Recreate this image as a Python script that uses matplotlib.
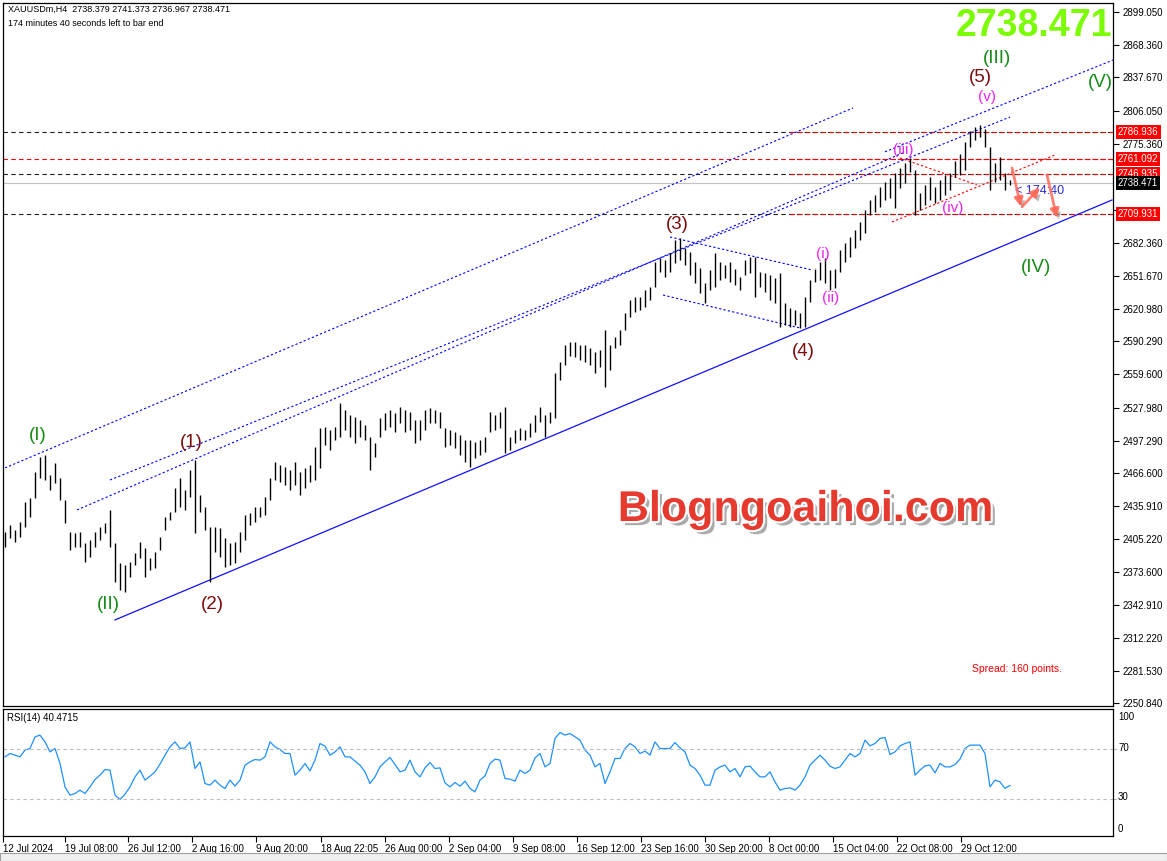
import matplotlib
matplotlib.use('Agg')
import matplotlib.pyplot as plt
import matplotlib.patheffects as pe
from matplotlib.patches import Rectangle

plt.rcParams['font.family'] = ['Liberation Sans', 'DejaVu Sans']

# H4 bars, high / low
highs = [2411.6, 2418.1, 2413.4, 2420.9, 2439.7, 2443.4, 2467.8, 2481.9, 2483.7, 2465.0,
         2476.2, 2462.2, 2441.6, 2411.6, 2410.6, 2411.6, 2401.2, 2404.0, 2411.6, 2416.2,
         2420.0, 2432.2, 2401.2, 2382.5, 2380.6, 2383.4, 2391.9, 2402.2, 2396.6, 2387.2,
         2392.8, 2406.9, 2425.6, 2430.3, 2452.8, 2462.2, 2450.9, 2469.7, 2479.1, 2446.2,
         2435.0, 2416.2, 2416.2, 2415.3, 2405.9, 2401.2, 2402.2, 2411.6, 2427.5, 2429.4,
         2435.0, 2435.0, 2444.4, 2462.2, 2477.2, 2474.4, 2472.5, 2469.7, 2477.2, 2467.8,
         2471.6, 2474.4, 2491.2, 2509.1, 2510.0, 2507.2, 2510.0, 2532.5, 2525.9, 2521.2,
         2519.4, 2516.6, 2511.9, 2500.6, 2495.0, 2518.4, 2523.1, 2525.9, 2523.1, 2528.7,
         2525.9, 2524.1, 2516.6, 2516.6, 2525.9, 2527.8, 2525.9, 2524.1, 2509.1, 2507.2,
         2505.3, 2502.5, 2497.8, 2497.8, 2495.9, 2497.8, 2500.6, 2524.1, 2521.2, 2524.1,
         2528.7, 2500.6, 2507.2, 2509.1, 2507.2, 2513.7, 2521.2, 2528.7, 2521.2, 2524.1,
         2560.6, 2570.9, 2586.9, 2589.7, 2589.7, 2586.9, 2586.9, 2584.1, 2580.3, 2582.2,
         2600.9, 2586.9, 2594.4, 2600.9, 2616.9, 2629.1, 2631.9, 2631.9, 2638.4, 2641.2,
         2664.7, 2668.4, 2666.6, 2673.1, 2685.3, 2687.2, 2677.8, 2674.1, 2664.7, 2659.1,
         2645.0, 2657.2, 2673.1, 2664.7, 2661.9, 2664.7, 2658.1, 2650.6, 2666.6, 2669.4,
         2669.4, 2655.3, 2654.4, 2652.5, 2649.7, 2654.4, 2626.2, 2621.6, 2619.7, 2616.9,
         2631.9, 2647.8, 2658.1, 2664.7, 2668.4, 2657.2, 2658.1, 2675.9, 2682.5, 2688.1,
         2694.7, 2702.2, 2713.4, 2722.8, 2727.5, 2735.0, 2739.7, 2743.4, 2748.1, 2752.8,
         2757.5, 2762.2, 2750.9, 2729.4, 2736.9, 2744.4, 2735.0, 2741.6, 2746.2, 2748.1,
         2759.4, 2765.9, 2777.2, 2787.5, 2791.2, 2793.1, 2789.4, 2772.5, 2757.5, 2763.1,
         2748.1, 2741.4]
lows = [2397.5, 2405.9, 2402.2, 2406.9, 2416.2, 2425.6, 2443.4, 2462.2, 2460.3, 2450.9,
        2457.5, 2441.6, 2420.0, 2394.7, 2397.5, 2397.5, 2383.4, 2388.1, 2397.5, 2404.0,
        2410.6, 2397.5, 2364.7, 2357.2, 2355.3, 2369.4, 2380.6, 2387.2, 2369.4, 2375.9,
        2377.8, 2394.7, 2413.4, 2422.8, 2430.3, 2435.0, 2432.2, 2444.4, 2410.6, 2430.3,
        2413.4, 2364.7, 2392.8, 2388.1, 2378.7, 2380.6, 2382.5, 2392.8, 2404.0, 2418.1,
        2420.9, 2425.6, 2427.5, 2441.6, 2460.3, 2458.4, 2455.6, 2450.9, 2455.6, 2446.2,
        2452.8, 2458.4, 2460.3, 2471.6, 2493.1, 2488.4, 2497.8, 2500.6, 2507.2, 2500.6,
        2495.0, 2500.6, 2497.8, 2469.7, 2481.9, 2500.6, 2507.2, 2510.0, 2505.3, 2513.7,
        2505.3, 2507.2, 2495.0, 2497.8, 2507.2, 2513.7, 2513.7, 2509.1, 2491.2, 2493.1,
        2490.3, 2483.7, 2477.2, 2472.5, 2481.0, 2483.7, 2486.6, 2505.3, 2507.2, 2509.1,
        2485.6, 2488.4, 2495.0, 2497.8, 2497.8, 2500.6, 2505.3, 2514.7, 2500.6, 2513.7,
        2518.4, 2554.1, 2568.1, 2576.6, 2575.6, 2572.8, 2570.9, 2568.1, 2560.6, 2566.2,
        2547.5, 2563.4, 2584.1, 2586.9, 2600.9, 2613.1, 2617.8, 2619.7, 2622.5, 2629.1,
        2641.2, 2655.3, 2650.6, 2655.3, 2663.7, 2666.6, 2661.9, 2652.5, 2645.0, 2635.6,
        2626.2, 2638.4, 2641.2, 2647.8, 2649.7, 2645.9, 2643.1, 2638.4, 2652.5, 2654.4,
        2631.9, 2641.2, 2636.6, 2629.1, 2626.2, 2603.7, 2605.6, 2603.7, 2605.6, 2602.8,
        2603.7, 2627.2, 2645.9, 2647.8, 2645.0, 2638.4, 2640.3, 2655.3, 2664.7, 2669.4,
        2677.8, 2685.3, 2691.9, 2708.7, 2711.6, 2716.2, 2722.8, 2724.7, 2715.3, 2734.1,
        2738.7, 2749.1, 2708.7, 2713.4, 2718.1, 2722.8, 2720.0, 2722.8, 2727.5, 2732.2,
        2744.4, 2746.2, 2750.9, 2772.5, 2779.1, 2781.9, 2772.5, 2732.2, 2739.7, 2741.6,
        2732.2, 2737.0]

rsi = [63.3, 66, 64.7, 63.3, 68.7, 70, 79.3, 80.7, 75.3, 67.3,
       70, 58, 39.3, 32.7, 34, 36.7, 34, 39.3, 45.2, 48.7,
       53.2, 52.7, 32.7, 29.2, 33.5, 39.3, 47.3, 52.7, 44.7, 47.9,
       51.3, 57.5, 64.7, 71.3, 75.3, 70, 70.5, 75.3, 54, 59.3,
       42, 40.7, 44.7, 40.7, 38, 44.7, 39.9, 44.7, 56.7, 59.3,
       61.2, 60.7, 63.3, 75.3, 71.3, 69.2, 66, 66, 48.7, 52.7,
       58, 52.1, 60.7, 74, 71.9, 64.7, 67.3, 71.3, 63.3, 63.3,
       59.9, 56.7, 51.3, 42, 47.3, 55.3, 59.3, 62.8, 57.2, 51.3,
       52.7, 60.7, 51.3, 47.3, 54.5, 58.8, 54, 54.5, 42.5, 39.3,
       42.8, 39.9, 43.9, 38, 35.3, 44.7, 48.1, 58, 61.5, 60.7,
       46, 45.5, 43.9, 52.7, 50, 52.7, 62.5, 66, 55.3, 58,
       78, 82.8, 80.7, 82, 79.3, 76.7, 68.7, 64.7, 55.3, 58,
       42, 51.3, 62, 62, 70, 74, 71.3, 66, 67.9, 64.7,
       75.3, 70, 70, 70, 74.8, 70.5, 67.3, 56.7, 54, 48.7,
       40.7, 40.7, 52.7, 55.3, 56.7, 51.3, 54, 47.3, 55.3, 55.9,
       51.3, 47.3, 47.3, 51.3, 43.3, 36.7, 38, 38.5, 36.7, 40.7,
       47.3, 56.7, 60.7, 64.7, 60.7, 55.9, 54, 55.3, 60.7, 66,
       63.3, 66, 76.7, 72.1, 74, 78, 78.8, 65.2, 67.3, 72.1,
       74, 75.3, 48.7, 52.7, 56.1, 56.7, 50.5, 58, 55.3, 55.3,
       57.2, 61.5, 70, 72.7, 72.7, 72.7, 66, 39.3, 44.7, 43.3,
       38, 40.47]

price_ticks = [2899.050, 2868.360, 2837.670, 2806.050, 2775.360, 2713.050, 2682.360,
               2651.670, 2620.980, 2590.290, 2559.600, 2527.980, 2497.290, 2466.600,
               2435.910, 2405.220, 2373.600, 2342.910, 2312.220, 2281.530, 2250.840]
hidden_ticks = [2713.050]  # covered by the 2709.931 price box
time_labels = ['12 Jul 2024', '19 Jul 08:00', '26 Jul 12:00', '2 Aug 16:00', '9 Aug 20:00',
               '18 Aug 22:05', '26 Aug 00:00', '2 Sep 04:00', '9 Sep 08:00', '16 Sep 12:00',
               '23 Sep 16:00', '30 Sep 20:00', '8 Oct 00:00', '15 Oct 04:00', '22 Oct 08:00',
               '29 Oct 12:00']
time_ticks = [-0.4, 12, 24.6, 37.4, 50.2, 63.2, 76, 88.8, 101.6, 114.4, 127.2, 140,
              152.8, 165.6, 178.4, 191.2]

levels = [2786.936, 2761.092, 2746.935, 2709.931]
black_levels = [2786.936, 2746.935, 2709.931]
red_level_start = 157   # bar where the red copies of the levels begin
bid = 2738.471
header = 'XAUUSDm,H4  2738.379 2741.373 2736.967 2738.471'

# trend lines: (bar, price) end points
chan_upper = [(0, 2471.6), (169.6, 2809.1)]
chan_mid1 = [(21, 2460.3), (201, 2800.6)]
chan_mid2 = [(14.4, 2432.2), (180, 2767.8)]
chan_right = [(176, 2768.0), (221.6, 2854.0)]
chan_lower = [(22, 2329.1), (221.4, 2722.8)]
tri_top = [(133, 2688.1), (161.4, 2657.2)]
tri_bot = [(131.6, 2633.7), (159, 2602.8)]
wedge_up = [(177.4, 2702.2), (210, 2765.0)]
wedge_down = [(179, 2762.2), (194.4, 2736.9)]

green_waves = [('(I)', 6.6, 2501.6), ('(II)', 20.6, 2344.0), ('(III)', 198.4, 2855.9),
               ('(IV)', 206.2, 2659.1), ('(V)', 219, 2833.4)]
brown_waves = [('(1)', 37.2, 2495.9), ('(2)', 41.4, 2344.0), ('(3)', 134.4, 2700.3),
               ('(4)', 159.6, 2580.3), ('(5)', 195, 2837.2)]
pink_waves = [('(i)', 163.6, 2672.2), ('(ii)', 165.2, 2630.9), ('(iii)', 179.6, 2769.7),
              ('(iv)', 189.6, 2715.3), ('(v)', 196.4, 2819.4)]


def fx(px):
    return px / 1167


def fy(py):
    return 1 - py / 861


fig = plt.figure(figsize=(11.67, 8.61), dpi=100)
ax = fig.add_axes([fx(3), fy(706), 1110 / 1167, 703 / 861])
rax = fig.add_axes([fx(3), fy(836), 1110 / 1167, 127 / 861])

bars = list(range(len(highs)))
ax.vlines(bars, lows, highs, colors='black', linewidth=1.0, zorder=3)
ax.set_xlim(-0.4, 221.6)
ax.set_ylim(2248.4, 2907.5)

# horizontal levels
dash = (0, (4, 3))
ax.axhline(bid, color='#c0c0c0', lw=0.8, zorder=1)
for lv in black_levels:
    ax.axhline(lv, color='#202020', lw=0.8, ls=dash, zorder=2)
ax.axhline(levels[1], color='red', lw=0.8, ls=dash, zorder=2)
for lv in levels:
    ax.plot([red_level_start, 221.6], [lv, lv], color='red', lw=0.8, ls=dash, zorder=2)

dot = (0, (2, 2))
for ln in [chan_upper, chan_mid1, chan_mid2, chan_right, tri_top, tri_bot]:
    ax.plot([ln[0][0], ln[1][0]], [ln[0][1], ln[1][1]], color='#0000ff', lw=0.8, ls=dot, zorder=2)
ax.plot([chan_lower[0][0], chan_lower[1][0]], [chan_lower[0][1], chan_lower[1][1]],
        color='#1010ff', lw=0.9, zorder=2)
for ln in [wedge_up, wedge_down]:
    ax.plot([ln[0][0], ln[1][0]], [ln[0][1], ln[1][1]], color='red', lw=0.8, ls=dot, zorder=2)

for t, x, y in green_waves:
    ax.text(x, y, t, color='#168c16', fontsize=13.5, ha='center', va='center', zorder=5)
for t, x, y in brown_waves:
    ax.text(x, y, t, color='#7a0c0c', fontsize=13.5, ha='center', va='center', zorder=5)
for t, x, y in pink_waves:
    ax.text(x, y, t, color='#ee22ee', fontsize=11, ha='center', va='center', zorder=5)

# countdown + arrows
ax.text(202, 2731, '< 174:40', color='#2a2ad8', fontsize=9, ha='left', va='center', zorder=4)
shadow = [pe.SimplePatchShadow(offset=(2, -3), shadow_rgbFace='#777777', alpha=0.5), pe.Normal()]
arrow_kw = dict(arrowstyle='-|>', color='#ff6a5a', lw=2, mutation_scale=13, alpha=0.85,
                path_effects=shadow, shrinkA=0, shrinkB=0)
ax.annotate('', xy=(203.2, 2716.5), xytext=(201.4, 2752.8), arrowprops=arrow_kw, zorder=6)
ax.annotate('', xy=(207, 2734.5), xytext=(203.4, 2716.5), arrowprops=arrow_kw, zorder=6)
ax.annotate('', xy=(210.4, 2705.9), xytext=(208.4, 2746.2), arrowprops=arrow_kw, zorder=6)

# right price axis
ax.yaxis.tick_right()
ax.set_yticks(price_ticks)
ax.set_yticklabels(['' if p in hidden_ticks else f'{p:.3f}' for p in price_ticks])
ax.tick_params(axis='y', direction='out', length=4, width=0.8, pad=3, labelsize=7)
ax.set_xticks([])
for s in ax.spines.values():
    s.set_linewidth(0.9)

for lv in levels:
    ax.text(1.0045, lv, f'{lv:.3f}', transform=ax.get_yaxis_transform(), color='white',
            fontsize=7, ha='left', va='center', clip_on=False, zorder=10,
            bbox=dict(boxstyle='square,pad=0.2', fc='red', ec='none'))
ax.text(1.0045, bid, f'{bid:.3f}', transform=ax.get_yaxis_transform(), color='white',
        fontsize=7, ha='left', va='center', clip_on=False, zorder=10,
        bbox=dict(boxstyle='square,pad=0.2', fc='black', ec='none'))

# RSI panel
rax.plot(bars, rsi, color='#1e90ff', lw=0.9)
for lv in [70, 30]:
    rax.axhline(lv, color='#bbbbbb', lw=0.8, ls=(0, (3, 3)))
rax.set_xlim(-0.4, 221.6)
rax.set_ylim(0, 101.6)
rax.yaxis.tick_right()
rax.set_yticks([70, 30])
rax.set_yticklabels([])
rax.tick_params(axis='y', length=3, color='#bbbbbb')
rax.set_xticks(time_ticks)
rax.set_xticklabels(time_labels, fontsize=7)
for lbl in rax.get_xticklabels():
    lbl.set_ha('left')
rax.tick_params(axis='x', direction='out', length=4, width=0.8, pad=2)
for s in rax.spines.values():
    s.set_linewidth(0.9)
for t, py in [('100', 717), ('70', 748), ('30', 797), ('0', 829)]:
    fig.text(fx(1118), fy(py), t, fontsize=7, ha='left', va='center')
fig.text(fx(7), fy(718), 'RSI(14) 40.4715', fontsize=7, ha='left', va='center')

# header and overlays
fig.text(fx(8), fy(9), header, fontsize=6.5, ha='left', va='center')
fig.text(fx(8), fy(23), '174 minutes 40 seconds left to bar end', fontsize=6.5, ha='left', va='center')
fig.text(fx(1112), fy(26), '2738.471', fontsize=27, fontweight='bold', color='#7cfc00',
         ha='right', va='center')
fig.text(fx(972), fy(669), 'Spread: 160 points.', fontsize=7.5, color='red', ha='left', va='center')
fig.text(fx(805), fy(510), 'Blogngoaihoi.com', fontsize=31, fontweight='bold', color='#e63a2e',
         ha='center', va='center', zorder=8,
         path_effects=[pe.SimplePatchShadow(offset=(3, -3), shadow_rgbFace='#888888', alpha=0.7),
                       pe.Stroke(linewidth=3, foreground='white'), pe.Normal()])

fig.patches.append(Rectangle((0, 0), 1, fy(853), transform=fig.transFigure,
                             fc='#f0f0f0', ec='#a0a0a0', lw=0.8))

fig.savefig('out.png', dpi=100)
